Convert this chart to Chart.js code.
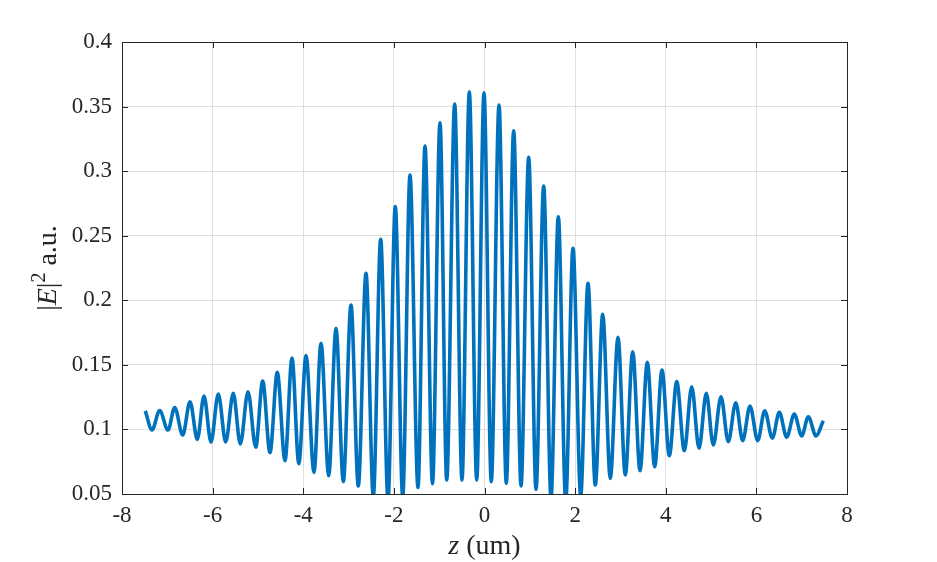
<!DOCTYPE html>
<html>
<head>
<meta charset="utf-8">
<script src="https://cdn.jsdelivr.net/npm/chart.js@4.4.1/dist/chart.umd.min.js"></script>
<style>
  html, body { margin: 0; padding: 0; background: #fff; }
  #wrap { width: 937px; height: 562px; }
</style>
</head>
<body>
<div id="wrap"><canvas id="chart" width="937" height="562"></canvas></div>
<script>
// --- DATA (successive peaks and troughs) ---
const zPos = [
  -7.486, -7.338, -7.168, -6.985, -6.837, -6.660, -6.499, -6.338, -6.190, -6.036,
  -5.875, -5.711, -5.544, -5.389, -5.219, -5.049, -4.895, -4.734, -4.573, -4.403,
  -4.248, -4.098, -3.939, -3.763, -3.608, -3.438, -3.277, -3.116, -2.946, -2.785,
  -2.615, -2.454, -2.291, -2.130, -1.969, -1.805, -1.644, -1.468, -1.313, -1.148,
  -0.982, -0.834, -0.658, -0.497, -0.335, -0.172, -0.011, 0.150, 0.320, 0.481,
  0.644, 0.806, 0.975, 1.137, 1.306, 1.468, 1.629, 1.792, 1.953, 2.123,
  2.284, 2.445, 2.609, 2.776, 2.946, 3.107, 3.271, 3.432, 3.593, 3.756,
  3.917, 4.079, 4.242, 4.410, 4.573, 4.734, 4.895, 5.049, 5.219, 5.380,
  5.544, 5.698, 5.859, 6.029, 6.184, 6.352, 6.506, 6.669, 6.837, 7.000,
  7.146, 7.316, 7.477
];
const intensity = [
  0.1144, 0.0996, 0.1147, 0.0995, 0.1170, 0.0957, 0.1214, 0.0923, 0.1259, 0.0902,
  0.1274, 0.0903, 0.1280, 0.0887, 0.1292, 0.0862, 0.1375, 0.0820, 0.1442, 0.0758,
  0.1553, 0.0735, 0.1573, 0.0667, 0.1667, 0.0641, 0.1783, 0.0596, 0.1963, 0.0562,
  0.2209, 0.0480, 0.2472, 0.0460, 0.2725, 0.0480, 0.2970, 0.0550, 0.3195, 0.0580,
  0.3375, 0.0608, 0.3520, 0.0608, 0.3615, 0.0608, 0.3607, 0.0595, 0.3512, 0.0583,
  0.3313, 0.0562, 0.3107, 0.0536, 0.2885, 0.0470, 0.2647, 0.0450, 0.2402, 0.0490,
  0.2132, 0.0570, 0.1891, 0.0621, 0.1713, 0.0647, 0.1602, 0.0680, 0.1520, 0.0711,
  0.1460, 0.0797, 0.1370, 0.0835, 0.1331, 0.0854, 0.1280, 0.0880, 0.1253, 0.0905,
  0.1207, 0.0913, 0.1181, 0.0913, 0.1145, 0.0932, 0.1132, 0.0940, 0.1119, 0.0950,
  0.1098, 0.0950, 0.1067
];
const xTicks = [-8, -6, -4, -2, 0, 2, 4, 6, 8];
const xTickLabels = ['-8', '-6', '-4', '-2', '0', '2', '4', '6', '8'];
const yTicks = [0.05, 0.1, 0.15, 0.2, 0.25, 0.3, 0.35, 0.4];
const yTickLabels = ['0.05', '0.1', '0.15', '0.2', '0.25', '0.3', '0.35', '0.4'];

// --- STYLE ---
const LINE_COLOR = '#0072BD';
const AXIS_COLOR = '#262626';
const GRID_COLOR = '#dfdfdf';
const SERIF = '"Liberation Serif", "DejaVu Serif", serif';

// box on all four sides + inward ticks, like the original axes
const boxPlugin = {
  id: 'box',
  afterDatasetsDraw(chart) {
    const { ctx, chartArea: a, scales } = chart;
    const tl = 6;
    ctx.save();
    ctx.strokeStyle = AXIS_COLOR;
    ctx.lineWidth = 1;
    ctx.beginPath();
    scales.x.ticks.forEach(t => {
      const px = Math.round(scales.x.getPixelForValue(t.value)) + 0.5;
      ctx.moveTo(px, a.bottom); ctx.lineTo(px, a.bottom - tl);
      ctx.moveTo(px, a.top); ctx.lineTo(px, a.top + tl);
    });
    scales.y.ticks.forEach(t => {
      const py = Math.round(scales.y.getPixelForValue(t.value)) + 0.5;
      ctx.moveTo(a.left, py); ctx.lineTo(a.left + tl, py);
      ctx.moveTo(a.right, py); ctx.lineTo(a.right - tl, py);
    });
    ctx.stroke();
    ctx.strokeRect(Math.round(a.left) + 0.5, Math.round(a.top) + 0.5,
                   Math.round(a.right - a.left), Math.round(a.bottom - a.top));
    ctx.restore();
  },
  afterDraw(chart) {
    const { ctx, chartArea: a } = chart;
    ctx.save();
    ctx.fillStyle = AXIS_COLOR;
    ctx.textBaseline = 'alphabetic';

    // x title: italic z + " (um)"
    const fs = 28;
    const partsX = [
      { t: 'z', f: `italic ${fs}px ${SERIF}` },
      { t: ' (um)', f: `${fs}px ${SERIF}` }
    ];
    drawParts(ctx, partsX, (a.left + a.right) / 2, 554);

    // y title: |E|^2 a.u. rotated
    ctx.translate(56, (a.top + a.bottom) / 2);
    ctx.rotate(-Math.PI / 2);
    const partsY = [
      { t: '|', f: `${fs}px ${SERIF}` },
      { t: 'E', f: `italic ${fs}px ${SERIF}` },
      { t: '|', f: `${fs}px ${SERIF}` },
      { t: '2', f: `${Math.round(fs * 0.7)}px ${SERIF}`, dy: -11 },
      { t: ' a.u.', f: `${fs}px ${SERIF}` }
    ];
    drawParts(ctx, partsY, 0, 0);
    ctx.restore();
  }
};

function drawParts(ctx, parts, cx, baseY) {
  let total = 0;
  parts.forEach(p => { ctx.font = p.f; p.w = ctx.measureText(p.t).width; total += p.w; });
  let x = cx - total / 2;
  parts.forEach(p => {
    ctx.font = p.f;
    ctx.fillText(p.t, x, baseY + (p.dy || 0));
    x += p.w;
  });
}

new Chart(document.getElementById('chart'), {
  type: 'line',
  data: {
    datasets: [{
      data: zPos.map((z, i) => ({ x: z, y: intensity[i] })),
      borderColor: LINE_COLOR,
      borderWidth: 3.6,
      pointRadius: 0,
      fill: false,
      cubicInterpolationMode: 'monotone',
      clip: 0
    }]
  },
  options: {
    responsive: false,
    animation: false,
    layout: { padding: { top: 42, right: 90, left: 0, bottom: 0 } },
    plugins: { legend: { display: false }, tooltip: { enabled: false } },
    scales: {
      x: {
        type: 'linear',
        min: -8, max: 8,
        afterBuildTicks: s => { s.ticks = xTicks.map(v => ({ value: v })); },
        afterFit: s => { s.height = 68; },
        ticks: {
          padding: 8,
          color: AXIS_COLOR,
          font: { family: SERIF, size: 23 },
          maxRotation: 0,
          callback: (v) => xTickLabels[xTicks.indexOf(v)]
        },
        grid: { color: GRID_COLOR, drawTicks: false },
        border: { display: false }
      },
      y: {
        type: 'linear',
        min: 0.05, max: 0.4,
        afterBuildTicks: s => { s.ticks = yTicks.map(v => ({ value: v })); },
        afterFit: s => { s.width = 122; },
        ticks: {
          padding: 10,
          color: AXIS_COLOR,
          font: { family: SERIF, size: 23 },
          callback: (v) => {
            const i = yTicks.findIndex(t => Math.abs(t - v) < 1e-9);
            return i >= 0 ? yTickLabels[i] : '';
          }
        },
        grid: { color: GRID_COLOR, drawTicks: false },
        border: { display: false }
      }
    }
  },
  plugins: [boxPlugin]
});
</script>
</body>
</html>
